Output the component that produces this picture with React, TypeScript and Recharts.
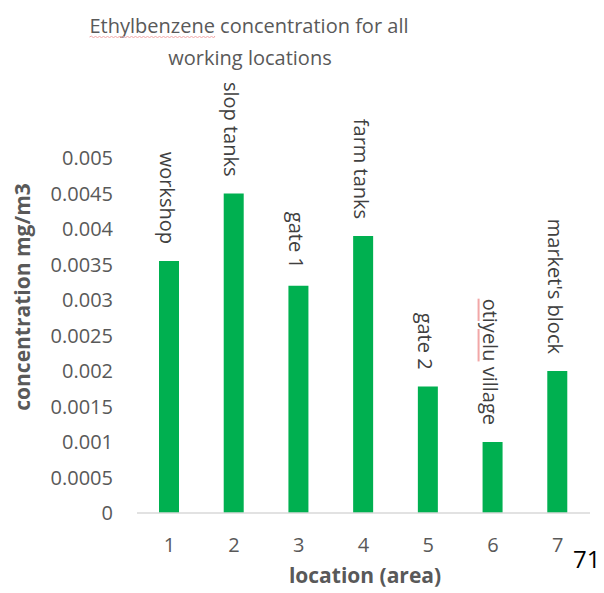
import React, { useEffect, useRef, useState } from "react";
import { Bar, BarChart, LabelList, XAxis, YAxis } from "recharts";

const locations = ["1", "2", "3", "4", "5", "6", "7"];
const places = [
  "workshop",
  "slop tanks",
  "gate 1",
  "farm tanks",
  "gate 2",
  "otiyelu village",
  "market's block",
];
const concentrations = [0.00355, 0.0045, 0.0032, 0.0039, 0.00178, 0.001, 0.002];
const yTicks = [0, 0.0005, 0.001, 0.0015, 0.002, 0.0025, 0.003, 0.0035, 0.004, 0.0045, 0.005];

const data = locations.map((loc, i) => ({
  loc,
  place: places[i],
  value: concentrations[i],
}));

const FONT = "'Open Sans', sans-serif";
const MARK = "#f2a7a7";
const TEXT = "#404040";

// spell-check style wavy underline
const wave = (x0: number, x1: number, y: number) => {
  let d = `M${x0},${y}`;
  for (let x = x0, up = true; x < x1; x += 2, up = !up) d += ` L${Math.min(x + 2, x1)},${up ? y - 1 : y + 1}`;
  return d;
};

// text with a wavy underline under its first `n` characters
const MarkedText = (props: any) => {
  const { n, offset = 4, children, ...rest } = props;
  const ref = useRef<SVGTextElement>(null);
  const [span, setSpan] = useState<[number, number, number] | null>(null);
  useEffect(() => {
    const el = ref.current;
    if (!el) return;
    const a = el.getStartPositionOfChar(0);
    const b = el.getEndPositionOfChar(n - 1);
    setSpan([a.x, b.x, a.y]);
  }, [n, children]);
  return (
    <g>
      <text ref={ref} {...rest}>
        {children}
      </text>
      {span && <path d={wave(span[0], span[1], span[2] + offset)} stroke={MARK} fill="none" strokeWidth={1} />}
    </g>
  );
};

const PlaceLabel = (props: any) => {
  const { x, y, width, value } = props;
  const cx = Number(x) + Number(width) / 2 - 2;
  const ty = Number(y) - 17;
  const text = String(value);
  const word = "otiyelu";
  return (
    <text
      x={cx}
      y={ty}
      transform={`rotate(90 ${cx} ${ty})`}
      textAnchor="end"
      dominantBaseline="central"
      fill={TEXT}
      fontSize={20}
      fontFamily={FONT}
    >
      {text.startsWith(word) ? (
        <>
          {/* underline is painted with the fill of the tspan that declares it */}
          <tspan fill={MARK} style={{ textDecoration: "underline" }}>
            <tspan fill={TEXT}>{word}</tspan>
          </tspan>
          {text.slice(word.length)}
        </>
      ) : (
        text
      )}
    </text>
  );
};

const App = () => {
  return (
    <div style={{ position: "absolute", left: 0, top: 0, width: 604, height: 593, background: "#fff" }}>
      <BarChart
        width={604}
        height={593}
        data={data}
        margin={{ top: 158, right: 14, left: 37, bottom: 20 }}
        barSize={20}
      >
        <XAxis
          dataKey="loc"
          height={60}
          tickSize={0}
          tickMargin={25}
          tickLine={false}
          axisLine={{ stroke: "#d9d9d9", strokeWidth: 1.5 }}
          tick={{ fill: "#595959", fontSize: 20, fontFamily: FONT }}
        />
        <YAxis
          width={100}
          domain={[0, 0.005]}
          ticks={yTicks}
          interval={0}
          tickSize={0}
          tickMargin={24}
          axisLine={false}
          tickLine={false}
          tick={{ fill: "#595959", fontSize: 20, fontFamily: FONT }}
        />
        <Bar dataKey="value" fill="#00b050" isAnimationActive={false}>
          <LabelList dataKey="place" content={<PlaceLabel />} />
        </Bar>
      </BarChart>
      <svg
        width={604}
        height={593}
        style={{ position: "absolute", left: 0, top: 0, pointerEvents: "none" }}
      >
        <MarkedText n={12} x={249} y={33} textAnchor="middle" fill="#595959" fontSize={20} fontFamily={FONT}>
          Ethylbenzene concentration for all
        </MarkedText>
        <text x={250} y={65} textAnchor="middle" fill="#595959" fontSize={20} fontFamily={FONT}>
          working locations
        </text>
        <text
          x={22}
          y={297}
          transform="rotate(-90 22 297)"
          textAnchor="middle"
          dominantBaseline="central"
          fill="#595959"
          fontSize={21}
          fontWeight="bold"
          fontFamily={FONT}
        >
          concentration mg/m3
        </text>
        <text x={365} y={583} textAnchor="middle" fill="#595959" fontSize={21} fontWeight="bold" fontFamily={FONT}>
          location (area)
        </text>
        <text x={573} y={568} fill="#000" fontSize={24} fontFamily={FONT}>
          71
        </text>
      </svg>
    </div>
  );
};

export default App;
